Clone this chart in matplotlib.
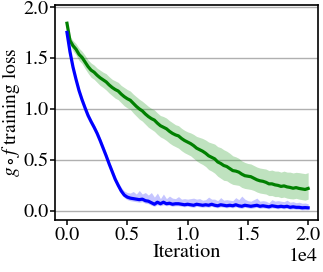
import numpy as np
import matplotlib
matplotlib.use("Agg")
import matplotlib.pyplot as plt

plt.rcParams['font.family'] = ['STIXGeneral', 'DejaVu Serif']
plt.rcParams['mathtext.fontset'] = 'stix'

# iterations sampled every 250 steps
iterations = np.arange(0, 20001, 250)

# g o f loss, green run
green_mean = [1.84, 1.67, 1.62, 1.585, 1.535, 1.505, 1.46, 1.415, 1.38, 1.36,
              1.33, 1.305, 1.285, 1.265, 1.235, 1.21, 1.19, 1.175, 1.145, 1.12,
              1.10, 1.085, 1.055, 1.025, 1.00, 0.98, 0.95, 0.925, 0.905, 0.89,
              0.86, 0.835, 0.82, 0.805, 0.78, 0.76, 0.745, 0.735, 0.71, 0.69,
              0.675, 0.66, 0.64, 0.615, 0.60, 0.585, 0.565, 0.54, 0.525, 0.51,
              0.48, 0.465, 0.445, 0.435, 0.415, 0.395, 0.39, 0.38, 0.36, 0.345,
              0.34, 0.335, 0.32, 0.305, 0.295, 0.29, 0.28, 0.265, 0.265, 0.255,
              0.25, 0.24, 0.245, 0.235, 0.23, 0.222, 0.228, 0.22, 0.215, 0.21,
              0.22]
green_up = [0.01, 0.04, 0.05, 0.055, 0.06, 0.06, 0.065, 0.065, 0.07, 0.07,
            0.07, 0.075, 0.075, 0.08, 0.08, 0.08, 0.085, 0.085, 0.085, 0.09,
            0.09, 0.09, 0.09, 0.095, 0.095, 0.095, 0.10, 0.10, 0.10, 0.10,
            0.10, 0.10, 0.105, 0.105, 0.105, 0.105, 0.10, 0.10, 0.10, 0.10,
            0.10, 0.105, 0.11, 0.115, 0.12, 0.125, 0.13, 0.135, 0.14, 0.145,
            0.15, 0.155, 0.155, 0.15, 0.15, 0.145, 0.14, 0.135, 0.13, 0.13,
            0.125, 0.125, 0.125, 0.125, 0.125, 0.125, 0.13, 0.13, 0.135, 0.135,
            0.14, 0.14, 0.145, 0.145, 0.15, 0.15, 0.15, 0.155, 0.155, 0.155,
            0.155]
green_down = [0.01, 0.04, 0.05, 0.055, 0.06, 0.06, 0.065, 0.065, 0.07, 0.07,
              0.07, 0.075, 0.075, 0.08, 0.08, 0.08, 0.085, 0.085, 0.085, 0.09,
              0.09, 0.09, 0.095, 0.095, 0.10, 0.10, 0.10, 0.105, 0.105, 0.11,
              0.11, 0.11, 0.11, 0.115, 0.115, 0.115, 0.115, 0.12, 0.12, 0.12,
              0.12, 0.12, 0.125, 0.125, 0.13, 0.13, 0.13, 0.135, 0.135, 0.14,
              0.14, 0.145, 0.145, 0.14, 0.14, 0.135, 0.135, 0.13, 0.13, 0.125,
              0.125, 0.125, 0.12, 0.12, 0.12, 0.12, 0.115, 0.115, 0.115, 0.115,
              0.11, 0.11, 0.11, 0.11, 0.11, 0.105, 0.105, 0.105, 0.105, 0.105,
              0.105]

# g o f loss, blue run
blue_mean = [1.75, 1.56, 1.41, 1.29, 1.18, 1.09, 1.01, 0.935, 0.875, 0.82,
             0.76, 0.69, 0.615, 0.54, 0.46, 0.385, 0.31, 0.25, 0.195, 0.155,
             0.135, 0.125, 0.12, 0.115, 0.11, 0.115, 0.10, 0.095, 0.08, 0.065,
             0.085, 0.07, 0.085, 0.07, 0.075, 0.065, 0.07, 0.07, 0.065, 0.06,
             0.065, 0.06, 0.055, 0.065, 0.06, 0.055, 0.06, 0.055, 0.065, 0.055,
             0.05, 0.06, 0.055, 0.05, 0.055, 0.05, 0.06, 0.05, 0.045, 0.055,
             0.05, 0.045, 0.05, 0.055, 0.045, 0.05, 0.045, 0.04, 0.05, 0.045,
             0.04, 0.045, 0.04, 0.045, 0.035, 0.04, 0.035, 0.035, 0.03, 0.032,
             0.03]
blue_up = [0.01, 0.03, 0.03, 0.03, 0.03, 0.03, 0.03, 0.03, 0.03, 0.03,
           0.03, 0.03, 0.03, 0.03, 0.03, 0.03, 0.03, 0.03, 0.035, 0.04,
           0.045, 0.05, 0.07, 0.05, 0.09, 0.05, 0.08, 0.06, 0.1, 0.07,
           0.09, 0.05, 0.08, 0.05, 0.07, 0.06, 0.05, 0.07, 0.05, 0.06,
           0.05, 0.06, 0.07, 0.05, 0.06, 0.05, 0.05, 0.08, 0.05, 0.06,
           0.05, 0.07, 0.05, 0.06, 0.05, 0.05, 0.07, 0.06, 0.1, 0.06,
           0.05, 0.05, 0.06, 0.07, 0.05, 0.05, 0.05, 0.04, 0.06, 0.05,
           0.06, 0.05, 0.05, 0.06, 0.05, 0.05, 0.045, 0.05, 0.045, 0.045,
           0.04]
blue_down = [0.01, 0.025, 0.025, 0.025, 0.025, 0.025, 0.025, 0.025, 0.025, 0.025,
             0.025, 0.025, 0.025, 0.025, 0.025, 0.025, 0.025, 0.025, 0.025, 0.025,
             0.025, 0.025, 0.025, 0.025, 0.025, 0.025, 0.025, 0.025, 0.025, 0.02,
             0.025, 0.02, 0.025, 0.02, 0.02, 0.02, 0.02, 0.02, 0.02, 0.02,
             0.02, 0.02, 0.02, 0.02, 0.02, 0.02, 0.02, 0.02, 0.02, 0.02,
             0.02, 0.02, 0.02, 0.02, 0.02, 0.02, 0.02, 0.02, 0.02, 0.02,
             0.02, 0.02, 0.02, 0.02, 0.02, 0.02, 0.02, 0.02, 0.02, 0.02,
             0.02, 0.02, 0.02, 0.02, 0.02, 0.02, 0.02, 0.02, 0.02, 0.02,
             0.02]

green_mean = np.array(green_mean)
blue_mean = np.array(blue_mean)

fig = plt.figure(figsize=(3.23, 2.72), dpi=100)
ax = fig.add_axes([0.170, 0.191, 0.815, 0.791])

ax.fill_between(iterations, green_mean - np.array(green_down), green_mean + np.array(green_up),
                color='#2ca02c', alpha=0.3, linewidth=0)
ax.fill_between(iterations, blue_mean - np.array(blue_down), blue_mean + np.array(blue_up),
                color='#4040ff', alpha=0.3, linewidth=0)
ax.plot(iterations, green_mean, color='green', lw=2.3)
ax.plot(iterations, blue_mean, color='blue', lw=2.3)

ax.set_xlim(-1000, 20830)
ax.set_ylim(-0.09, 2.02)
ax.set_yticks([0.0, 0.5, 1.0, 1.5, 2.0])
ax.set_xticks([0, 5000, 10000, 15000, 20000])
ax.ticklabel_format(axis='x', style='sci', scilimits=(4, 4))
ax.yaxis.grid(True, color='#b0b0b0', lw=1.0)
ax.set_axisbelow(True)

ax.tick_params(labelsize=14.5, direction='out', length=3.6, width=1.1, pad=1)
ax.xaxis.get_offset_text().set_fontsize(14.5)
for s in ax.spines.values():
    s.set_linewidth(1.2)

ax.set_xlabel('Iteration', fontsize=14.5, labelpad=0)
ax.set_ylabel(r'$g \circ f$ training loss', fontsize=14)
ax.yaxis.set_label_coords(-0.124, 0.5)

fig.savefig('out.png', dpi=100)
